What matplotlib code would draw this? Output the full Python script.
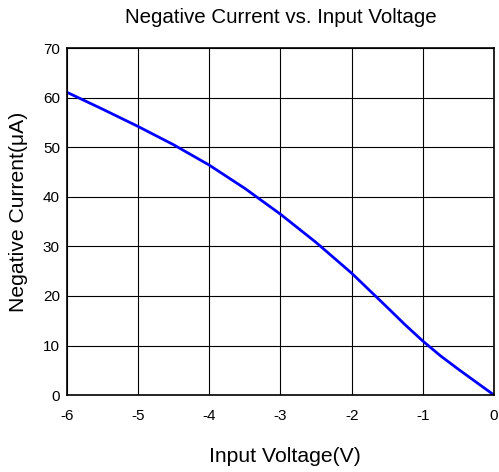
import matplotlib.pyplot as plt

plt.rcParams.update({
    "font.family": "sans-serif",
    "font.sans-serif": ["Liberation Sans", "DejaVu Sans"],
})

# data
voltage = [-6, -5.5, -5, -4.5, -4, -3.5, -3, -2.5, -2, -1.5, -1.25, -1, -0.75, -0.5, -0.25, 0]
current = [61.1, 57.7, 54.2, 50.5, 46.4, 41.7, 36.5, 30.8, 24.6, 17.7, 14.2, 10.9, 7.9, 5.2, 2.6, 0]

x_ticks = [-6, -5, -4, -3, -2, -1, 0]
y_ticks = [0, 10, 20, 30, 40, 50, 60, 70]

fig = plt.figure(figsize=(4.99, 4.72), dpi=100)
ax = fig.add_axes([0.134, 0.163, 0.856, 0.735])

ax.plot(voltage, current, color="#0000ff", linewidth=2)

ax.set_xlim(-6, 0)
ax.set_ylim(0, 70)
ax.set_xticks(x_ticks)
ax.set_yticks(y_ticks)
ax.set_xticklabels([str(t) for t in x_ticks])
ax.grid(True, color="black", linewidth=0.8)
ax.set_axisbelow(True)
ax.tick_params(length=0, labelsize=11)
ax.tick_params(axis="x", pad=10)
ax.tick_params(axis="y", pad=5)

for s in ax.spines.values():
    s.set_linewidth(1.2)

# title and axis labels placed in figure coords
fig.text(0.563, 0.951, "Negative Current vs. Input Voltage", fontsize=14.8,
         ha="center", va="baseline")
fig.text(0.571, 0.021, "Input Voltage(V)", fontsize=15.2,
         ha="center", va="baseline")
fig.text(0.038, 0.552, "Negative Current(\u03bcA)", fontsize=15.2,
         ha="center", va="center", rotation=90)

plt.savefig("out.png", dpi=100)
